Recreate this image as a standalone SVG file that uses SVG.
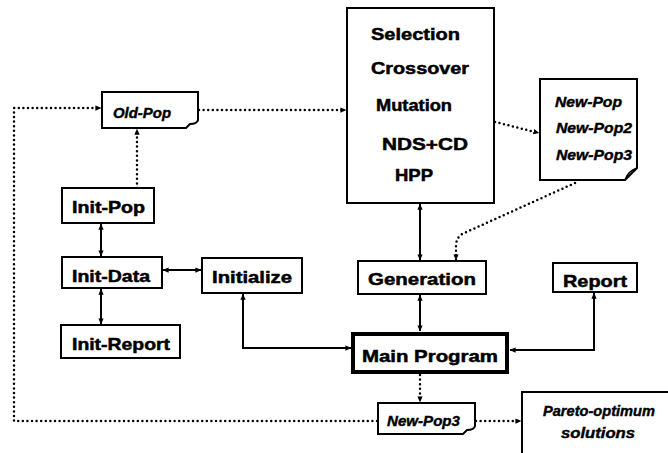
<svg xmlns="http://www.w3.org/2000/svg" width="668" height="453" viewBox="0 0 668 453">
  <defs>
    <marker id="tip" viewBox="0 0 8 8" refX="7.5" refY="4" markerWidth="6" markerHeight="6" markerUnits="userSpaceOnUse" orient="auto-start-reverse">
      <path d="M0,0.5 L8,4 L0,7.5 Z" fill="#000"/>
    </marker>
    <style>
      .box { fill: #fff; stroke: #000; stroke-width: 2; }
      .main { fill: #fff; stroke: #000; stroke-width: 4; }
      .lbl { font-family: "Liberation Sans", Arial, sans-serif; font-weight: bold; font-size: 17px; fill: #000; stroke: #000; stroke-width: 0.5; }
      .it { font-family: "Liberation Sans", Arial, sans-serif; font-weight: bold; font-style: italic; font-size: 14px; fill: #000; stroke: #000; stroke-width: 0.4; }
      .solid { fill: none; stroke: #000; stroke-width: 2; marker-start: url(#tip); marker-end: url(#tip); }
      .dot { fill: none; stroke: #000; stroke-width: 2.5; stroke-linecap: round; stroke-dasharray: 0 4.6; marker-end: url(#tip); }
    </style>
  </defs>
  <rect width="668" height="453" fill="#fff"/>

  <!-- connectors -->
  <g id="connectors">
    <path class="solid" d="M101,224 V256"/>
    <path class="solid" d="M101,289 V324"/>
    <path class="solid" d="M163,270 H201"/>
    <path class="solid" d="M243,294 V348 H351"/>
    <path class="solid" d="M420,204 V260"/>
    <path class="solid" d="M420,295 V331"/>
    <path class="solid" d="M594,293 V350 H510"/>
    <path class="dot" d="M137,188 V129"/>
    <path class="dot" d="M199,110 H346"/>
    <path class="dot" d="M495,122 L539,133"/>
    <path class="dot" d="M575,183 L462,234 Q456,238 456,246 V260"/>
    <path class="dot" d="M420,375 V402"/>
    <path class="dot" d="M476,421 H521"/>
    <path class="dot" d="M377,421 H14 V108 H101"/>
  </g>

  <!-- data stores -->
  <g id="old-pop">
    <path class="box" d="M102,92 H198 V120 Q197,124 190,124 L186,128 H102 Z"/>
    <text class="it" x="113" y="118" textLength="58" lengthAdjust="spacingAndGlyphs">Old-Pop</text>
  </g>
  <g id="new-pop">
    <path class="box" d="M540,79 H637 V168 L625,180 H540 Z"/>
    <path d="M637,168 Q628,171 625,180" fill="none" stroke="#000" stroke-width="1.6"/>
    <text class="it" x="555" y="107" textLength="67" lengthAdjust="spacingAndGlyphs">New-Pop</text>
    <text class="it" x="556" y="133" textLength="76" lengthAdjust="spacingAndGlyphs">New-Pop2</text>
    <text class="it" x="556" y="160" textLength="76" lengthAdjust="spacingAndGlyphs">New-Pop3</text>
  </g>
  <g id="new-pop3">
    <path class="box" d="M378,403 H475 V426 Q474,430 467,430 L463,434 H378 Z"/>
    <text class="it" x="387" y="426" textLength="73" lengthAdjust="spacingAndGlyphs">New-Pop3</text>
  </g>
  <g id="pareto">
    <rect class="box" x="522" y="392" width="160" height="80"/>
    <text class="it" x="543" y="416" textLength="112" lengthAdjust="spacingAndGlyphs">Pareto-optimum</text>
    <text class="it" x="561" y="438" textLength="74" lengthAdjust="spacingAndGlyphs">solutions</text>
  </g>

  <!-- process boxes -->
  <g id="init-pop">
    <rect class="box" x="62" y="188" width="92" height="35"/>
    <text class="lbl" x="72" y="213" textLength="73" lengthAdjust="spacingAndGlyphs">Init-Pop</text>
  </g>
  <g id="init-data">
    <rect class="box" x="62" y="257" width="100" height="31"/>
    <text class="lbl" x="72" y="282" textLength="78" lengthAdjust="spacingAndGlyphs">Init-Data</text>
  </g>
  <g id="init-report">
    <rect class="box" x="61" y="325" width="119" height="33"/>
    <text class="lbl" x="72" y="350" textLength="98" lengthAdjust="spacingAndGlyphs">Init-Report</text>
  </g>
  <g id="initialize">
    <rect class="box" x="202" y="258" width="100" height="35"/>
    <text class="lbl" x="212" y="283" textLength="80" lengthAdjust="spacingAndGlyphs">Initialize</text>
  </g>
  <g id="operators">
    <rect class="box" x="347" y="8" width="147" height="195"/>
    <text class="lbl" x="371" y="40" textLength="89" lengthAdjust="spacingAndGlyphs">Selection</text>
    <text class="lbl" x="371" y="74" textLength="98" lengthAdjust="spacingAndGlyphs">Crossover</text>
    <text class="lbl" x="376" y="111" textLength="76" lengthAdjust="spacingAndGlyphs">Mutation</text>
    <text class="lbl" x="382" y="150" textLength="86" lengthAdjust="spacingAndGlyphs">NDS+CD</text>
    <text class="lbl" x="395" y="181" textLength="38" lengthAdjust="spacingAndGlyphs">HPP</text>
  </g>
  <g id="generation">
    <rect class="box" x="358" y="261" width="128" height="33"/>
    <text class="lbl" x="368" y="285" textLength="108" lengthAdjust="spacingAndGlyphs">Generation</text>
  </g>
  <g id="main-program">
    <rect class="main" x="353" y="334" width="154" height="38"/>
    <text class="lbl" x="362" y="362" font-size="19" textLength="136" lengthAdjust="spacingAndGlyphs">Main Program</text>
  </g>
  <g id="report">
    <rect class="box" x="553" y="263" width="84" height="29"/>
    <text class="lbl" x="563" y="287" textLength="64" lengthAdjust="spacingAndGlyphs">Report</text>
  </g>
</svg>
